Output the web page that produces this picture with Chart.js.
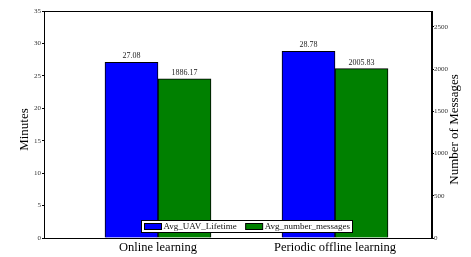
<!DOCTYPE html>
<html>
<head>
<meta charset="utf-8">
<script src="https://cdn.jsdelivr.net/npm/chart.js@4/dist/chart.umd.min.js"></script>
<style>
	body { margin: 0; background: #fff; }
	canvas { display: block; }
</style>
</head>
<body>
<canvas id="chart" width="471" height="257"></canvas>
<script>
// categories and series
let categories = ["Online learning", "Periodic offline learning"];
let lifetime = [27.08, 28.78];      // minutes, left axis
let messages = [1886.17, 2005.83];  // count, right axis
let seriesNames = ["Avg_UAV_Lifetime", "Avg_number_messages"];
let leftTicks = [0, 5, 10, 15, 20, 25, 30, 35];
let rightTicks = [0, 500, 1000, 1500, 2000, 2500];
let leftTitle = "Minutes";
let rightTitle = "Number of Messages";

let serif = "'Liberation Serif', 'Times New Roman', serif";
Chart.defaults.font.family = serif;
Chart.defaults.color = "#000";

// numbers above each bar
let valueLabels = {
	id: "valueLabels",
	afterDatasetsDraw(chart) {
		let ctx = chart.ctx;
		ctx.save();
		ctx.font = "8px " + serif;
		ctx.fillStyle = "#222";
		ctx.textAlign = "center";
		ctx.textBaseline = "bottom";
		chart.data.datasets.forEach((ds, i) => {
			chart.getDatasetMeta(i).data.forEach((bar, j) => {
				ctx.fillText(ds.data[j].y.toFixed(2), bar.x, bar.y - 2);
			});
		});
		ctx.restore();
	}
};

// axes frame, axis titles (both read bottom-to-top) and boxed legend
let frameAndLegend = {
	id: "frameAndLegend",
	afterDraw(chart) {
		let ctx = chart.ctx;
		let a = chart.chartArea;
		ctx.save();
		ctx.strokeStyle = "#000";
		ctx.lineWidth = 1;
		ctx.strokeRect(Math.round(a.left) + 0.5, Math.round(a.top) + 0.5,
			Math.round(a.right - a.left) - 1, Math.round(a.bottom - a.top));

		// axis titles
		ctx.fillStyle = "#000";
		ctx.font = "13px " + serif;
		ctx.textAlign = "center";
		ctx.textBaseline = "middle";
		let midY = (a.top + a.bottom) / 2 + 5;
		[[24.5, leftTitle], [455, rightTitle]].forEach(([tx, txt]) => {
			ctx.save();
			ctx.translate(tx, midY);
			ctx.rotate(-Math.PI / 2);
			ctx.fillText(txt, 0, 0);
			ctx.restore();
		});

		// legend
		ctx.textAlign = "left";
		ctx.font = "9px " + serif;
		let sw = 17, sh = 6, gap = 2, itemGap = 9, pad = 3;
		let widths = chart.data.datasets.map(ds => ctx.measureText(ds.label).width);
		let boxW = Math.round(pad * 2 + widths.reduce((s, w) => s + sw + gap + w, 0) + itemGap);
		let boxH = 12;
		let cx = (a.left + a.right) / 2 + 8.5;
		let x0 = Math.round(cx - boxW / 2) + 0.5;
		let y0 = Math.round(a.bottom - 18) + 0.5;
		ctx.fillStyle = "#fff";
		ctx.fillRect(x0, y0, boxW, boxH);
		ctx.strokeRect(x0, y0, boxW, boxH);

		let x = x0 + pad;
		chart.data.datasets.forEach((ds, i) => {
			ctx.fillStyle = ds.backgroundColor;
			ctx.fillRect(x, y0 + 3, sw, sh);
			ctx.strokeRect(x, y0 + 3, sw, sh);
			x += sw + gap;
			ctx.fillStyle = "#111";
			ctx.fillText(ds.label, x, y0 + boxH / 2);
			x += widths[i] + itemGap;
		});
		ctx.restore();
	}
};

let ctx = document.getElementById("chart").getContext("2d");

new Chart(ctx, {
	type: "bar",
	data: {
		datasets: [{
			label: seriesNames[0],
			data: lifetime.map((v, i) => ({ x: i, y: v })),
			backgroundColor: "#0000ff",
			borderColor: "#000",
			borderWidth: 1,
			yAxisID: "y"
		}, {
			label: seriesNames[1],
			data: messages.map((v, i) => ({ x: i, y: v })),
			backgroundColor: "#008000",
			borderColor: "#000",
			borderWidth: 1,
			yAxisID: "y1"
		}]
	},
	options: {
		responsive: false,
		animation: false,
		devicePixelRatio: 1,
		barThickness: 53,
		layout: { padding: { top: 11, left: 0, right: 0, bottom: 0 } },
		plugins: {
			legend: { display: false },
			tooltip: { enabled: false }
		},
		scales: {
			x: {
				type: "linear",
				offset: false,
				min: -0.644,
				max: 1.548,
				afterBuildTicks: (scale) => {
					scale.ticks = categories.map((c, i) => ({ value: i }));
				},
				afterFit: (scale) => { scale.height = 19; },
				ticks: {
					callback: (v) => categories[v],
					font: { size: 12.5 },
					padding: 2,
					maxRotation: 0,
					autoSkip: false
				},
				grid: { display: false, drawTicks: false, offset: false },
				border: { display: true, color: "#000" }
			},
			y: {
				position: "left",
				min: 0,
				max: 35,
				afterBuildTicks: (scale) => {
					scale.ticks = leftTicks.map(v => ({ value: v }));
				},
				afterFit: (scale) => { scale.width = 44; },
				ticks: { callback: (v) => String(v), font: { size: 7 }, padding: 1, color: "#333" },
				grid: { drawOnChartArea: false, drawTicks: true, tickLength: 2, color: "#000" },
				border: { display: true, color: "#000" }
			},
			y1: {
				position: "right",
				min: 0,
				max: 2688,
				afterBuildTicks: (scale) => {
					scale.ticks = rightTicks.map(v => ({ value: v }));
				},
				afterFit: (scale) => { scale.width = 39; },
				ticks: { callback: (v) => String(v), font: { size: 7 }, padding: 0, color: "#333" },
				grid: { drawOnChartArea: false, drawTicks: true, tickLength: 2, color: "#000" },
				border: { display: true, color: "#000" }
			}
		}
	},
	plugins: [valueLabels, frameAndLegend]
});
</script>
</body>
</html>
